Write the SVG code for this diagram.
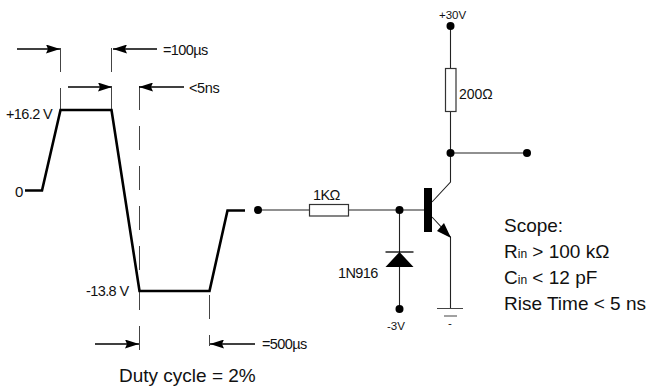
<svg xmlns="http://www.w3.org/2000/svg" width="647" height="386" viewBox="0 0 647 386">
<defs>
<style>
text{font-family:"Liberation Sans",Arial,sans-serif;fill:#111}
.s{font-size:14.5px;letter-spacing:-.6px}
.t{font-size:19px}
.v{font-size:11.5px}
.sub{font-size:12px}
.wave{fill:none;stroke:#000;stroke-width:2.6}
.w{fill:none;stroke:#222;stroke-width:1.1}
.d{fill:none;stroke:#444;stroke-width:1;stroke-dasharray:24 16}
.a{stroke:#000;stroke-width:1.7;fill:none}
.r{fill:#fff;stroke:#333;stroke-width:1.2}
</style>
<marker id="h" markerUnits="userSpaceOnUse" markerWidth="14" markerHeight="9" refX="14" refY="4.5" orient="auto"><path d="M0 0L14 4.5L0 9L2 4.5Z" fill="#000"/></marker>
<circle id="dot" r="4" fill="#000"/>
</defs>
<g id="connectors">
<path class="d" d="M60.500 48V110"/>
<path class="d" d="M111.500 48V110"/>
<path class="d" d="M139.500 86V350"/>
<path class="d" d="M209.500 295V346"/>
<path class="a" marker-end="url(#h)" d="M17 49H60"/>
<path class="a" marker-end="url(#h)" d="M157 49H113"/>
<path class="a" marker-end="url(#h)" d="M68 87H112"/>
<path class="a" marker-end="url(#h)" d="M184 87H139"/>
<path class="a" marker-end="url(#h)" d="M95 344H139"/>
<path class="a" marker-end="url(#h)" d="M255 344H210"/>
<path class="wave" d="M25 190.500H42L60.500 110H111.500L139.500 291H209.500L227.500 210.500H245"/>
<path class="w" d="M258 210H309M348 210H424"/>
<path class="w" d="M399.500 210V308"/>
<path class="w" d="M450.500 26V68M450.500 111V182L432 202"/>
<path class="w" d="M450.500 153H527"/>
<path class="w" d="M432 217L450.500 237V308"/>
</g>
<g id="waveform-labels">
<text class="s" x="6" y="119">+16.2 V</text>
<text x="15" y="197" style="font-size:15px">0</text>
<text class="s" x="86" y="296">-13.8 V</text>
<text class="s" x="163" y="55">=100µs</text>
<text class="s" x="189" y="93" style="letter-spacing:-.4px">&lt;5ns</text>
<text class="s" x="262" y="349">=500µs</text>
<text class="t" x="119" y="381.500">Duty cycle = 2%</text>
</g>
<g id="input"><use href="#dot" x="258" y="210"/></g>
<g id="r1"><rect class="r" x="309.500" y="204.500" width="39" height="11.500"/><text class="s" x="313" y="200">1KΩ</text></g>
<g id="j1"><use href="#dot" x="399.500" y="210"/></g>
<g id="d1"><path d="M385.500 252H413.500" stroke="#000" stroke-width="1.300"/><path d="M399.500 252L413.500 267H385.500Z" fill="#000"/><text class="s" x="338" y="278">1N916</text></g>
<g id="vm3"><use href="#dot" x="399.500" y="309"/><text class="v" x="387" y="330">-3V</text></g>
<g id="vp30"><use href="#dot" x="450.500" y="26"/><text class="v" x="439" y="19">+30V</text></g>
<g id="r2"><rect class="r" x="445.500" y="68.500" width="10.500" height="43"/><text x="459" y="99" style="font-size:14px">200Ω</text></g>
<g id="j2"><use href="#dot" x="450.500" y="153"/></g>
<g id="out"><use href="#dot" x="527" y="153"/></g>
<g id="q1"><rect x="424" y="188" width="8" height="44" fill="#000"/><path d="M451 238L437 231L444 223Z" fill="#000"/></g>
<g id="gnd"><path d="M437 308.500H463M444 316H457" stroke="#444" stroke-width="1.200"/><text class="v" x="448" y="327">-</text></g>
<g id="scope">
<text class="t" x="504" y="232">Scope:</text>
<text class="t" x="504" y="258">R<tspan class="sub">in</tspan> &gt; 100 kΩ</text>
<text class="t" x="504" y="284">C<tspan class="sub">in</tspan> &lt; 12 pF</text>
<text class="t" x="504" y="310">Rise Time &lt; 5 ns</text>
</g>
</svg>
